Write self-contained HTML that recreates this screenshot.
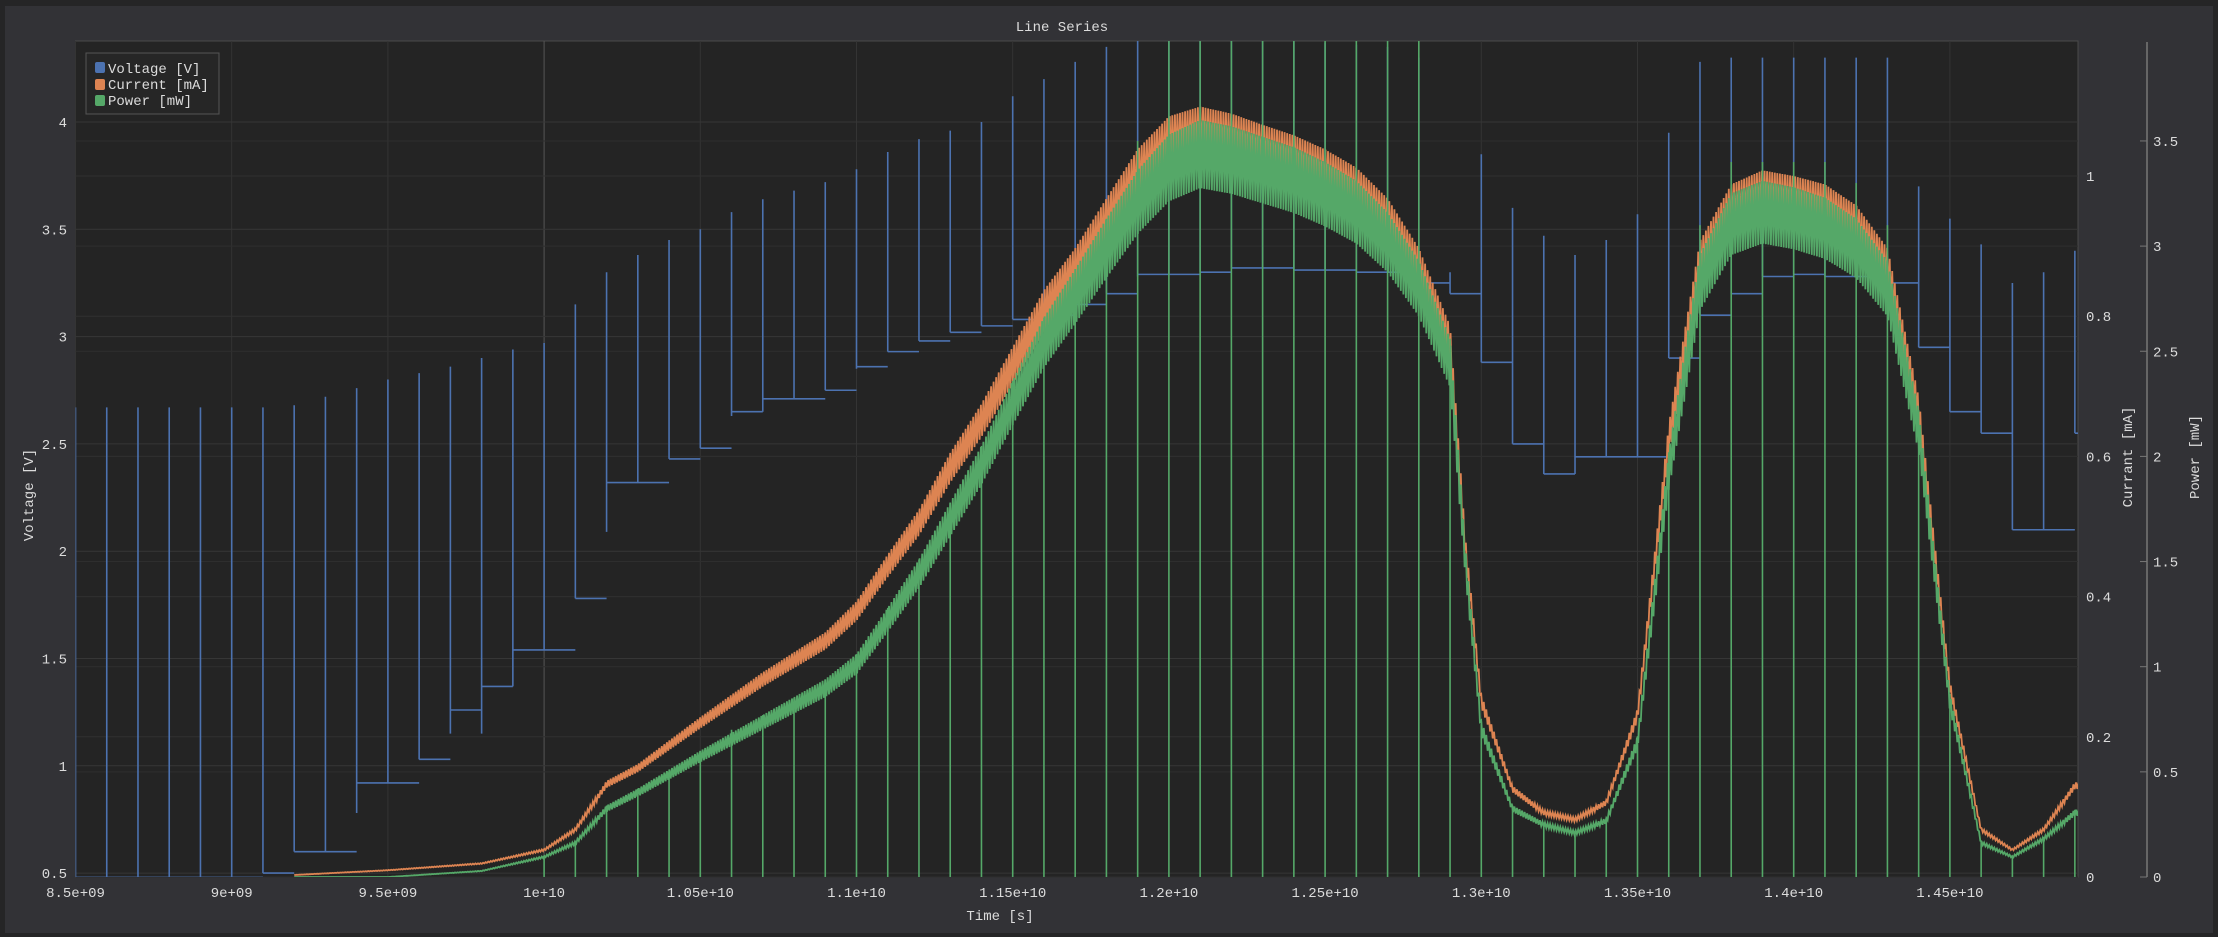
<!DOCTYPE html>
<html><head><meta charset="utf-8"><style>
html,body{margin:0;padding:0;background:#252526;width:2218px;height:937px;overflow:hidden}
svg text{font-family:"Liberation Mono",monospace;fill:#dcdcdc}
</style></head><body>
<svg id="chart" width="2218" height="937" xmlns="http://www.w3.org/2000/svg">
<rect x="5" y="6" width="2208" height="927" fill="#323236"/>
<rect x="75.5" y="41" width="2002.5" height="836" fill="#242424" stroke="#4a4a4a"/>
<text x="1062" y="31" font-size="14" text-anchor="middle">Line Series</text>
<text x="1000" y="920" font-size="14" text-anchor="middle">Time [s]</text>
<text transform="translate(33,495) rotate(-90)" font-size="14" text-anchor="middle">Voltage [V]</text>
<text transform="translate(2132,457) rotate(-90)" font-size="14" text-anchor="middle">Currant [mA]</text>
<text transform="translate(2199,457) rotate(-90)" font-size="14" text-anchor="middle">Power [mW]</text>
<line x1="2147" y1="42" x2="2147" y2="877" stroke="#777" stroke-width="1.5"/>
<g id="grid"></g>
<clipPath id="clip"><rect x="75.5" y="41" width="2002.5" height="836"/></clipPath>
<g id="series" clip-path="url(#clip)"></g>
<g id="axes"></g>
<g>
<rect x="86" y="53" width="133" height="61" fill="#262626" stroke="#555"/>
<rect x="95" y="62" width="10" height="11" rx="2" fill="#4c72b0"/>
<text x="108" y="73" font-size="14">Voltage [V]</text>
<rect x="95" y="79" width="10" height="11" rx="2" fill="#dd8452"/>
<text x="108" y="89" font-size="14">Current [mA]</text>
<rect x="95" y="95" width="10" height="11" rx="2" fill="#55a868"/>
<text x="108" y="105" font-size="14">Power [mW]</text>
</g>
</svg>
<script>
// ---- data ----
const xTicks = [8.5e9, 9e9, 9.5e9, 1e10, 1.05e10, 1.1e10, 1.15e10, 1.2e10, 1.25e10, 1.3e10, 1.35e10, 1.4e10, 1.45e10];
const xTickLabels = ["8.5e+09","9e+09","9.5e+09","1e+10","1.05e+10","1.1e+10","1.15e+10","1.2e+10","1.25e+10","1.3e+10","1.35e+10","1.4e+10","1.45e+10"];
const vTicks = [0.5,1,1.5,2,2.5,3,3.5,4];
const iTicks = [0,0.2,0.4,0.6,0.8,1];
const pTicks = [0,0.5,1,1.5,2,2.5,3,3.5];
// voltage spikes every 1e8 s
const vTimes = [8.5e9,8.6e9,8.7e9,8.8e9,8.9e9,9.0e9,9.1e9,9.2e9,9.3e9,9.4e9,9.5e9,9.6e9,9.7e9,9.8e9,9.9e9,1.0e10,1.01e10,1.02e10,1.03e10,1.04e10,1.05e10,1.06e10,1.07e10,1.08e10,1.09e10,1.10e10,1.11e10,1.12e10,1.13e10,1.14e10,1.15e10,1.16e10,1.17e10,1.18e10,1.19e10,1.20e10,1.21e10,1.22e10,1.23e10,1.24e10,1.25e10,1.26e10,1.27e10,1.28e10,1.29e10,1.30e10,1.31e10,1.32e10,1.33e10,1.34e10,1.35e10,1.36e10,1.37e10,1.38e10,1.39e10,1.40e10,1.41e10,1.42e10,1.43e10,1.44e10,1.45e10,1.46e10,1.47e10,1.48e10,1.49e10];
const vHigh = [2.67,2.67,2.67,2.67,2.67,2.67,2.67,2.68,2.72,2.76,2.8,2.83,2.86,2.9,2.94,2.97,3.15,3.3,3.38,3.45,3.5,3.58,3.64,3.68,3.72,3.78,3.86,3.92,3.96,4.0,4.12,4.2,4.28,4.35,4.4,4.4,4.4,4.4,4.38,4.38,4.37,4.36,4.35,4.3,3.3,3.85,3.6,3.47,3.38,3.45,3.57,3.95,4.28,4.3,4.3,4.3,4.3,4.3,4.3,3.7,3.55,3.43,3.25,3.3,3.4];
const vLow = [0.48,0.48,0.48,0.48,0.48,0.48,0.5,0.6,0.6,0.78,0.92,1.03,1.15,1.15,1.37,1.54,1.78,2.09,2.32,2.43,2.48,2.63,2.65,2.71,2.75,2.85,2.93,2.98,3.02,3.05,3.08,3.1,3.15,3.2,3.28,3.29,3.3,3.32,3.32,3.31,3.31,3.3,3.3,3.25,3.2,2.88,2.5,2.36,2.36,2.44,2.44,2.9,3.1,3.2,3.28,3.29,3.28,3.28,3.25,2.95,2.65,2.55,2.1,2.1,2.55];
const vLevel = [0.48,0.48,0.48,0.48,0.48,0.48,0.5,0.6,0.6,0.92,0.92,1.03,1.26,1.37,1.54,1.54,1.78,2.32,2.32,2.43,2.48,2.65,2.71,2.71,2.75,2.86,2.93,2.98,3.02,3.05,3.08,3.1,3.15,3.2,3.29,3.29,3.3,3.32,3.32,3.31,3.31,3.3,3.3,3.25,3.2,2.88,2.5,2.36,2.44,2.44,2.44,2.9,3.1,3.2,3.28,3.29,3.28,3.28,3.25,2.95,2.65,2.55,2.1,2.1,2.55];
// current & power envelope (top of ripple band)
const cTimes = [8.5e9,9.2e9,9.5e9,9.8e9,1.0e10,1.01e10,1.02e10,1.03e10,1.05e10,1.07e10,1.09e10,1.10e10,1.11e10,1.12e10,1.13e10,1.14e10,1.15e10,1.16e10,1.17e10,1.18e10,1.19e10,1.20e10,1.21e10,1.22e10,1.23e10,1.24e10,1.25e10,1.26e10,1.27e10,1.28e10,1.29e10,1.295e10,1.30e10,1.31e10,1.32e10,1.33e10,1.34e10,1.35e10,1.36e10,1.37e10,1.38e10,1.39e10,1.40e10,1.41e10,1.42e10,1.43e10,1.44e10,1.45e10,1.46e10,1.47e10,1.48e10,1.49e10];
const current = [0,0.003,0.01,0.02,0.04,0.07,0.137,0.161,0.228,0.292,0.349,0.393,0.46,0.524,0.605,0.675,0.756,0.837,0.897,0.968,1.038,1.085,1.099,1.089,1.073,1.058,1.038,1.012,0.968,0.897,0.786,0.48,0.26,0.13,0.095,0.085,0.11,0.24,0.645,0.907,0.988,1.008,1.0,0.988,0.958,0.897,0.685,0.28,0.07,0.04,0.07,0.135];
const power = [0,0,0,0.03,0.1,0.17,0.34,0.42,0.6,0.77,0.94,1.06,1.28,1.51,1.78,2.05,2.36,2.66,2.89,3.13,3.36,3.53,3.6,3.57,3.52,3.47,3.4,3.31,3.16,2.93,2.56,1.55,0.74,0.34,0.26,0.22,0.28,0.67,2.02,2.96,3.25,3.31,3.28,3.23,3.13,2.93,2.22,0.87,0.17,0.1,0.19,0.32];
// power spikes (green verticals)
const pSpikeTimes = [1.0e10,1.01e10,1.02e10,1.03e10,1.04e10,1.05e10,1.06e10,1.07e10,1.08e10,1.09e10,1.10e10,1.11e10,1.12e10,1.13e10,1.14e10,1.15e10,1.16e10,1.17e10,1.18e10,1.19e10,1.20e10,1.21e10,1.22e10,1.23e10,1.24e10,1.25e10,1.26e10,1.27e10,1.28e10,1.29e10,1.30e10,1.31e10,1.32e10,1.33e10,1.34e10,1.35e10,1.36e10,1.37e10,1.38e10,1.39e10,1.40e10,1.41e10,1.42e10,1.43e10,1.44e10,1.45e10,1.46e10,1.47e10,1.48e10,1.49e10];
const pSpikeTop = [0.1,0.17,0.34,0.42,0.5,0.6,0.7,0.77,0.85,0.94,1.06,1.28,1.51,1.78,2.05,2.36,2.66,2.89,3.13,3.5,4.0,4.0,4.0,4.0,4.0,4.0,4.0,4.0,4.0,2.56,0.74,0.34,0.26,0.22,0.28,0.67,2.02,3.1,3.4,3.4,3.4,3.4,3.3,3.1,2.22,0.87,0.17,0.1,0.19,0.32];

// ---- scales ----
const L=75.5,R=2078,T=41,B=877;
const xs=t=>L+(t-8.5e9)/0.5e9*156.2;
const yv=v=>122+(4-v)*214.6;
const yi=i=>B-i*701;
const yp=p=>B-p*210.3;
const NS='http://www.w3.org/2000/svg';
function mk(tag,attrs,parent){const e=document.createElementNS(NS,tag);for(const k in attrs)e.setAttribute(k,attrs[k]);parent.appendChild(e);return e;}
const grid=document.getElementById('grid'),series=document.getElementById('series'),axes=document.getElementById('axes');

xTicks.forEach((t,k)=>{
  const g=mk('line',{x1:xs(t),x2:xs(t),y1:T,y2:B,stroke:t===1e10?'#555':'#343434'},grid);
  
  
  const tx=mk('text',{x:xs(t),y:897,'font-size':14,'text-anchor':'middle'},axes);
  tx.textContent=xTickLabels[k];
  
  
});
vTicks.forEach(v=>{
  const g=mk('line',{x1:L,x2:R,y1:yv(v),y2:yv(v),stroke:'#363636'},grid);
  
  
  const tx=mk('text',{x:67,y:yv(v)+5,'font-size':14,'text-anchor':'end'},axes);
  tx.textContent=String(v);
  
  
});
iTicks.forEach(v=>{
  const g=mk('line',{x1:L,x2:R,y1:yi(v),y2:yi(v),stroke:'#303030'},grid);
  
  
  const tx=mk('text',{x:2086,y:yi(v)+5,'font-size':14},axes);
  tx.textContent=String(v);
  
  
});
pTicks.forEach(v=>{
  const g=mk('line',{x1:L,x2:R,y1:yp(v),y2:yp(v),stroke:'#2e2e2e'},grid);
  
  
  const tk=mk('line',{x1:2140,x2:2147,y1:yp(v),y2:yp(v),stroke:'#777'},axes);
  
  
  const tx=mk('text',{x:2153,y:yp(v)+5,'font-size':14},axes);
  tx.textContent=String(v);
  
  
});

// voltage
let d='';
vTimes.forEach((t,k)=>{
  const x=xs(t);
  d+=`M${x},${yv(vLow[k])}L${x},${yv(vHigh[k])}`;
  const xn=k<vTimes.length-1?xs(vTimes[k+1]):R;
  d+=`M${x},${yv(vLevel[k])}L${xn},${yv(vLevel[k])}`;
});
const vp=mk('path',{d:d,stroke:'#4c72b0','stroke-width':1.6,fill:'none'},series);



function interp(ts,vs,t){
  if(t<=ts[0])return vs[0];
  for(let k=1;k<ts.length;k++){if(t<=ts[k]){const f=(t-ts[k-1])/(ts[k]-ts[k-1]);return vs[k-1]+f*(vs[k]-vs[k-1]);}}
  return vs[vs.length-1];
}
function band(vals,ysc,ripple,color,name){
  let p='';const N=1400;const t0=9.2e9,t1=1.492e10;
  for(let n=0;n<=N;n++){
    const t=t0+(t1-t0)*n/N;const v=interp(cTimes,vals,t);
    const vv=n%2?v*(1-ripple):v;
    p+=(n?'L':'M')+xs(t).toFixed(1)+','+ysc(vv).toFixed(1);
  }
  const e=mk('path',{d:p,stroke:color,'stroke-width':1.8,fill:'none'},series);
  
  
}
band(current,yi,0.07,'#dd8452','current-line');
// power spikes
let sd='';
pSpikeTimes.forEach((t,k)=>{sd+=`M${xs(t)},${B}L${xs(t)},${yp(pSpikeTop[k])}`;});
const sp=mk('path',{d:sd,stroke:'#55a868','stroke-width':1.6,fill:'none'},series);


band(power,yp,0.09,'#55a868','power-line');
</script>
</body></html>
